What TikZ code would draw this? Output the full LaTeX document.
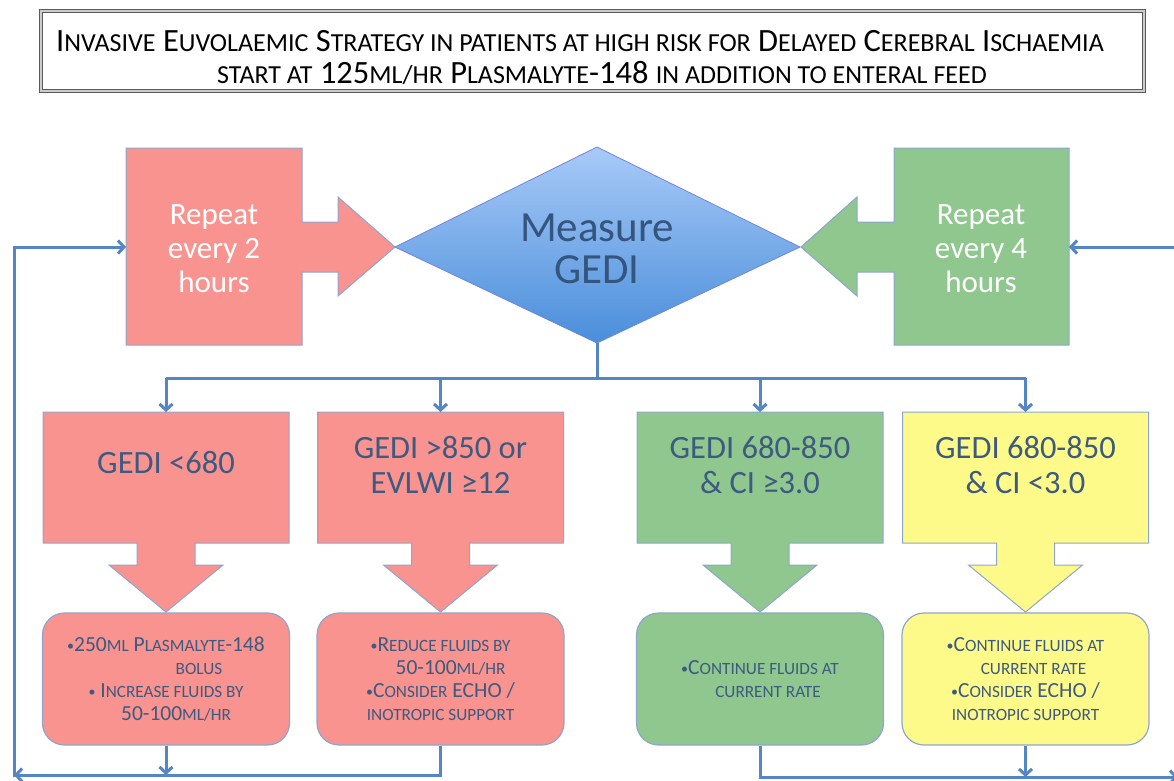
\documentclass[tikz,border=0pt]{standalone}
\usepackage{fontspec}
\setmainfont{Carlito}
\usetikzlibrary{arrows.meta}

\definecolor{pinkfill}{HTML}{F9938F}
\definecolor{greenfill}{HTML}{8FC78F}
\definecolor{yellowfill}{HTML}{FEFA8A}
\definecolor{edgec}{HTML}{8EA6CF}
\definecolor{flowc}{HTML}{5585C4}
\definecolor{textc}{HTML}{3D5A80}
\definecolor{measurec}{HTML}{34557E}
\definecolor{diatop}{HTML}{A8CAF8}
\definecolor{diabot}{HTML}{4A8EDA}
\definecolor{framec}{HTML}{5A5A5A}

% small capitals built from reduced upper-case letters
\makeatletter
\newdimen\lowscdim
\newcommand\lowsc[1]{{\lowscdim=\f@size pt\lowscdim=0.8\lowscdim
  \fontsize{\strip@pt\lowscdim}{\strip@pt\lowscdim}\selectfont\MakeUppercase{#1}}}
\makeatother
% a small list bullet
\newcommand\bul{{\fontsize{14}{14}\selectfont\raisebox{0.5pt}{•}}}

% condition box with a block arrow pointing down; #1 = centre x, #2 = fill
\newcommand\condshape[2]{%
  \filldraw[shapeedge, fill=#2]
    (#1-123,412) -- (#1+123,412) -- (#1+123,543) -- (#1+29,543) -- (#1+29,565)
    -- (#1+57,565) -- (#1,612) -- (#1-57,565) -- (#1-29,565) -- (#1-29,543)
    -- (#1-123,543) -- cycle;}

\begin{document}
\begin{tikzpicture}[x=1pt,y=-1pt,
  shapeedge/.style={draw=edgec, line width=1pt},
  flow/.style={draw=flowc, line width=3pt},
  tip/.style={-{Straight Barb[length=6pt,width=13pt]}},
  titletext/.style={inner sep=0pt, text=black, font=\fontsize{32.5}{36}\selectfont},
  reptext/.style={align=center, text=white, inner sep=0pt, font=\fontsize{31}{34}\selectfont},
  condtext/.style={align=center, text=textc, inner sep=0pt, font=\fontsize{32.5}{35}\selectfont},
  act/.style={draw=edgec, line width=1.2pt, rounded corners=22pt, minimum width=247pt,
    minimum height=132pt, align=center, text=textc, inner sep=0pt,
    font=\fontsize{21.5}{23}\selectfont},
]
\useasboundingbox (0,0) rectangle (1174,780);

% heading
\node[draw=framec, double=white!80!black, double distance=1.5pt, line width=1pt,
  minimum width=1103pt, minimum height=80pt, inner sep=0pt] (titlebox) at (592.5,51) {};
\node[titletext] (title1) at (580,41)
  {I\lowsc{nvasive} E\lowsc{uvolaemic} S\lowsc{trategy in patients at high risk for} D\lowsc{elayed} C\lowsc{erebral} I\lowsc{schaemia}};
\node[titletext] (title2) at (602,73)
  {\lowsc{start at} 125\lowsc{ml/hr} P\lowsc{lasmalyte}-148 \lowsc{in addition to enteral feed}};

% repeat blocks with their side arrows
\filldraw[shapeedge, fill=pinkfill]
  (126,148) -- (302,148) -- (302,222) -- (338,222) -- (338,197) -- (395,247)
  -- (338,296) -- (338,272) -- (302,272) -- (302,345) -- (126,345) -- cycle;
\filldraw[shapeedge, fill=greenfill]
  (1069,148) -- (894,148) -- (894,222) -- (857,222) -- (857,197) -- (801,247)
  -- (857,296) -- (857,272) -- (894,272) -- (894,345) -- (1069,345) -- cycle;
\node[reptext] (rep2) at (214,249) {Repeat\\every 2\\hours};
\node[reptext] (rep4) at (981,249) {Repeat\\every 4\\hours};

% decision diamond
\shade[top color=diatop, bottom color=diabot]
  (395,247) -- (597,147) -- (800,247) -- (597,343) -- cycle;
\draw[draw=edgec!80!blue, line width=0.8pt]
  (395,247) -- (597,147) -- (800,247) -- (597,343) -- cycle;
\node[align=center, text=measurec, inner sep=0pt, font=\fontsize{43}{42}\selectfont]
  (measure) at (597,249) {Measure\\GEDI};

% condition blocks
\condshape{166}{pinkfill}
\condshape{440.5}{pinkfill}
\condshape{760}{greenfill}
\condshape{1025.5}{yellowfill}
\node[condtext] (t1) at (166,463) {GEDI <680};
\node[condtext] (t2) at (440.5,465) {GEDI >850 or\\EVLWI ≥12};
\node[condtext] (t3) at (760,465) {GEDI 680-850\\\& CI ≥3.0};
\node[condtext] (t4) at (1025.5,465) {GEDI 680-850\\\& CI <3.0};

% action boxes
\node[act, fill=pinkfill] (a1) at (166,679)
  {\bul250\lowsc{ml} P\lowsc{lasmalyte}-148\\\hspace*{66pt}\lowsc{bolus}\\\bul{} I\lowsc{ncrease fluids by}\\\hspace*{20pt}50-100\lowsc{ml/hr}};
\node[act, fill=pinkfill] (a2) at (440.5,679)
  {\bul R\lowsc{educe fluids by}\\\hspace*{20pt}50-100\lowsc{ml/hr}\\\bul C\lowsc{onsider} ECHO /\\\lowsc{inotropic support}};
\node[act, fill=greenfill] (a3) at (760,679)
  {\bul C\lowsc{ontinue fluids at}\\\hspace*{16pt}\lowsc{current rate}};
\node[act, fill=yellowfill] (a4) at (1025.5,679)
  {\bul C\lowsc{ontinue fluids at}\\\hspace*{16pt}\lowsc{current rate}\\\bul C\lowsc{onsider} ECHO /\\\lowsc{inotropic support}};

% connector end points
\coordinate (dia-s) at (597,343);
\coordinate (split) at (597,378);
\coordinate (b1) at (166,378);
\coordinate (b2) at (440.5,378);
\coordinate (b3) at (760,378);
\coordinate (b4) at (1025.5,378);
\coordinate (c1) at (166,412);
\coordinate (c2) at (440.5,412);
\coordinate (c3) at (760,412);
\coordinate (c4) at (1025.5,412);
\coordinate (rep2-w) at (126,247);
\coordinate (rep4-e) at (1069,247);
\coordinate (loopL-b) at (14,775);
\coordinate (loopL-c) at (14,776.5);
\coordinate (loopL-t) at (14,247);
\coordinate (loopR-b) at (1178,777);
\coordinate (loopR-t) at (1178,247);

% distribution from the diamond
\draw[flow] (dia-s) -- (split);
\draw[flow] (b1) -- (b4);
\draw[flow, tip] (b1) -- (c1);
\draw[flow, tip] (b2) -- (c2);
\draw[flow, tip] (b3) -- (c3);
\draw[flow, tip] (b4) -- (c4);

% return loops
\draw[flow, tip] (a1.south) -- (a1.south |- loopL-b);
\draw[flow, tip] (a2.south) |- (loopL-b);
\draw[flow, tip] (loopL-c) -- (loopL-t) -- (rep2-w);
\draw[flow, tip] (a3.south) |- (loopR-b);
\draw[flow, tip] (a4.south) -- (a4.south |- loopR-b);
\draw[flow, tip] (loopR-b) -- (loopR-t) -- (rep4-e);
\end{tikzpicture}
\end{document}
